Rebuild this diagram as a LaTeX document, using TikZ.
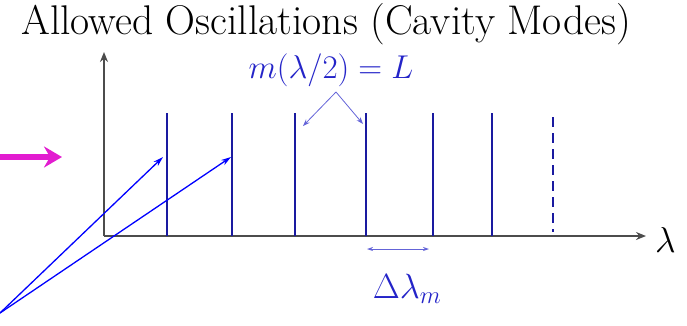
\RequirePackage{fix-cm}
\documentclass[tikz,border=0pt]{standalone}
\usepackage{fontspec}
\usetikzlibrary{arrows.meta}
\definecolor{modeblue}{HTML}{1A1AA0}
\definecolor{labblue}{HTML}{2424C8}
\definecolor{thinblue}{HTML}{6464D8}
\definecolor{pinkish}{HTML}{E21CD0}
\tikzset{
  axis/.style={draw=black!70, line width=1.6pt, -{Stealth[length=10pt,width=8pt]}},
  mode/.style={draw=modeblue, line width=2.9pt},
  pointer/.style={draw=blue, line width=1.3pt, -{Stealth[length=10pt,width=6pt]}},
  thin/.style={draw=thinblue, line width=0.8pt},
}
\begin{document}
\begin{tikzpicture}[x=1pt,y=-1pt]
\useasboundingbox (0,0) rectangle (687,325);
% title
\node (title) at (326,24) {\fontsize{41.5}{41.5}\selectfont Allowed Oscillations (Cavity Modes)};
% axes
\coordinate (o) at (104,236);
\coordinate (ytip) at (104,52);
\coordinate (xtip) at (646,236);
\draw[axis] (o) -- (ytip);
\draw[axis] (o) -- (xtip);
\node[anchor=west, inner sep=0pt] (lam) at (655,240) {\fontsize{36}{36}\selectfont $\lambda$};
% modes
\foreach \n/\x in {1/167,2/232,3/295,4/366,5/433,6/492}{
  \coordinate (t\n) at (\x,113);
  \coordinate (b\n) at (\x,236);
  \draw[mode] (b\n) -- (t\n);
}
\coordinate (t7) at (553,117);
\coordinate (b7) at (553,232);
\draw[mode, dash pattern=on 10pt off 6pt] (t7) -- (b7);
% label m(lambda/2)=L
\node[text=labblue] (eq) at (331,70) {\fontsize{33}{33}\selectfont $m(\lambda/2)=L$};
\coordinate (apex) at (336,92);
\coordinate (pl) at (303,126);
\coordinate (pr) at (363,124);
\draw[thin, -{Stealth[length=7pt,width=5pt]}] (apex) -- (pl);
\draw[thin, -{Stealth[length=7pt,width=5pt]}] (apex) -- (pr);
% delta lambda
\coordinate (dl) at (367,249);
\coordinate (dr) at (429,249);
\draw[thin, {Stealth[length=6pt,width=4pt]}-{Stealth[length=6pt,width=4pt]}] (dl) -- (dr);
\node[text=labblue] (dlab) at (407,289) {\fontsize{35}{35}\selectfont $\Delta\lambda_m$};
% magenta arrow
\coordinate (ms) at (0,157);
\coordinate (me) at (62,157);
\draw[draw=pinkish, line width=6pt, -{Stealth[length=18pt,width=21pt,inset=6pt]}] (ms) -- (me);
% blue pointers
\coordinate (src) at (0,313);
\coordinate (p1) at (163,157);
\coordinate (p2) at (231,157);
\draw[pointer] (src) -- (p1);
\draw[pointer] (src) -- (p2);
\end{tikzpicture}
\end{document}
